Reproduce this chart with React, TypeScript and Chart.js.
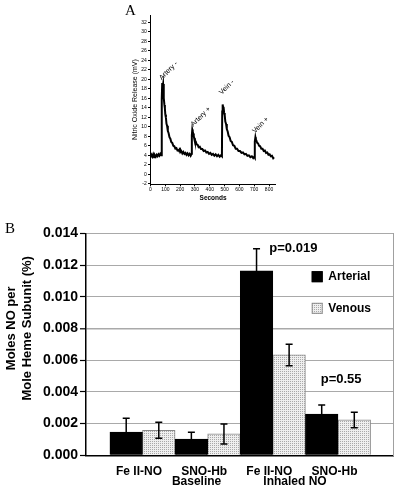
import React, { useEffect, useRef } from "react";
import { Chart, registerables } from "chart.js";

Chart.register(...registerables);

const SANS = "'Liberation Sans', Arial, Helvetica, sans-serif";
const SERIF = "'Liberation Serif', 'Times New Roman', serif";

// ---------- Panel A: NO release trace ----------
const TRACE_TIME_S = [
  0, 6, 12, 18, 24, 30, 36, 42, 48, 54, 60, 66, 72, 75, 77, 79, 82, 85, 88, 91,
  94, 97, 100, 104, 108, 112, 117, 122, 128, 134, 140, 147, 154, 161, 168, 175,
  182, 189, 195, 198, 202, 208, 215, 222, 229, 236, 243, 250, 257, 264, 271, 277,
  279, 282, 285, 288, 292, 296, 300, 305, 311, 318, 325, 333, 341, 350, 359, 368,
  377, 386, 395, 404, 413, 422, 431, 440, 449, 458, 467, 476, 482, 484, 487, 490,
  493, 497, 501, 505, 510, 515, 521, 527, 534, 541, 549, 557, 566, 575, 584, 594,
  604, 614, 624, 634, 644, 654, 664, 674, 684, 693, 700, 703, 705, 708, 711, 715,
  720, 726, 733, 740, 748, 756, 764, 772, 780, 788, 796, 804, 812, 820, 828, 834,
];
const TRACE_NO_MV = [
  3.6, 4.1, 3.7, 4.2, 3.6, 4.0, 3.7, 4.1, 3.8, 4.2, 3.9, 4.3, 4.0, 4.3, 15.8, 19.2, 18.4, 19.0, 16.9, 16.0,
  14.6, 13.9, 12.6, 11.9, 10.6, 10.2, 9.1, 8.7, 7.8, 7.5, 6.8, 6.6, 6.0, 5.9, 5.4, 5.5,
  5.0, 5.1, 4.8, 5.6, 4.7, 4.9, 4.4, 4.7, 4.3, 4.5, 4.1, 4.4, 4.0, 4.3, 3.9, 4.3,
  8.2, 9.4, 9.0, 8.6, 8.0, 7.6, 7.0, 6.9, 6.3, 6.2, 5.7, 5.8, 5.3, 5.3, 4.9, 5.0,
  4.6, 4.7, 4.3, 4.5, 4.1, 4.3, 3.9, 4.2, 3.8, 4.1, 3.7, 4.0, 3.8, 13.2, 14.7, 14.1,
  14.2, 12.9, 12.4, 11.1, 10.6, 9.5, 9.0, 8.1, 7.8, 7.0, 6.8, 6.1, 6.0, 5.4, 5.4, 4.9,
  4.9, 4.5, 4.6, 4.2, 4.3, 3.9, 4.0, 3.6, 3.8, 3.4, 3.7, 3.5, 6.9, 7.8, 7.3, 7.1,
  6.6, 6.5, 6.0, 5.9, 5.4, 5.4, 4.9, 5.0, 4.5, 4.6, 4.1, 4.2, 3.8, 3.9, 3.4, 3.6,
];
const A_X_TICKS = [0, 100, 200, 300, 400, 500, 600, 700, 800];
const A_Y_TICKS = [-2, 0, 2, 4, 6, 8, 10, 12, 14, 16, 18, 20, 22, 24, 26, 28, 30, 32];
const PEAK_LABELS = ["Artery -", "Artery +", "Vein -", "Vein +"];
const PEAK_LABEL_TIME = [76, 289, 481, 705];
const PEAK_LABEL_MV = [19.8, 10.0, 16.7, 8.6];

// ---------- Panel B: bar chart ----------
const CATEGORIES = ["Fe II-NO", "SNO-Hb", "Fe II-NO", "SNO-Hb"];
const GROUPS = ["Baseline", "Inhaled NO"];
const GROUP_AT = [1.83, 3.34];
const ARTERIAL = [0.00147, 0.00103, 0.01163, 0.0026];
const ARTERIAL_ERR = [0.00086, 0.00042, 0.0014, 0.00057];
const VENOUS = [0.00158, 0.00135, 0.00633, 0.00223];
const VENOUS_ERR = [0.0005, 0.00063, 0.00068, 0.00049];
const B_Y_TICKS = [0, 0.002, 0.004, 0.006, 0.008, 0.01, 0.012, 0.014];
const P_LABELS = ["p=0.019", "p=0.55"];
const P_AT_X = [2.946, 3.735];
const P_AT_Y = [0.01305, 0.00481];

function makeStipple(ctx: CanvasRenderingContext2D) {
  const c = document.createElement("canvas");
  c.width = 2;
  c.height = 2;
  const g = c.getContext("2d")!;
  g.fillStyle = "#efefef";
  g.fillRect(0, 0, 2, 2);
  g.fillStyle = "#a9a9a9";
  g.fillRect(0, 0, 1, 1);
  return ctx.createPattern(c, "repeat")!;
}

const panelADecor = {
  id: "panelADecor",
  afterDraw(chart: any) {
    const { ctx } = chart;
    const xs = chart.scales.x;
    const ys = chart.scales.y;
    ctx.save();
    ctx.fillStyle = "#000";
    ctx.font = `15px ${SERIF}`;
    ctx.textAlign = "left";
    ctx.textBaseline = "alphabetic";
    ctx.fillText("A", 25, 15);
    ctx.font = `7px ${SANS}`;
    PEAK_LABELS.forEach((t, i) => {
      const px = xs.getPixelForValue(PEAK_LABEL_TIME[i]);
      const py = ys.getPixelForValue(PEAK_LABEL_MV[i]);
      ctx.save();
      ctx.translate(px, py);
      ctx.rotate(-Math.PI / 4);
      ctx.fillText(t, 0, 0);
      ctx.restore();
    });
    ctx.restore();
  },
};

const errorBarPlugin = {
  id: "errorBars",
  afterDatasetsDraw(chart: any) {
    const { ctx } = chart;
    const ys = chart.scales.y;
    const errs = [ARTERIAL_ERR, VENOUS_ERR];
    const vals = [ARTERIAL, VENOUS];
    chart.data.datasets.forEach((_ds: any, di: number) => {
      const meta = chart.getDatasetMeta(di);
      meta.data.forEach((bar: any, i: number) => {
        const v = vals[di][i];
        const e = errs[di][i];
        const top = ys.getPixelForValue(v + e);
        const bot = ys.getPixelForValue(v - e);
        const x = bar.x;
        ctx.save();
        ctx.strokeStyle = "#000";
        ctx.lineWidth = 1.5;
        ctx.beginPath();
        ctx.moveTo(x, top);
        ctx.lineTo(x, bot);
        ctx.moveTo(x - 3.5, top);
        ctx.lineTo(x + 3.5, top);
        ctx.moveTo(x - 3.5, bot);
        ctx.lineTo(x + 3.5, bot);
        ctx.stroke();
        ctx.restore();
      });
    });
  },
};

const panelBDecor = {
  id: "panelBDecor",
  afterDraw(chart: any) {
    const { ctx, chartArea } = chart;
    const xs = chart.scales.x;
    const ys = chart.scales.y;
    ctx.save();
    ctx.fillStyle = "#000";
    ctx.font = `15px ${SERIF}`;
    ctx.textAlign = "left";
    ctx.textBaseline = "alphabetic";
    ctx.fillText("B", 5, 18);
    ctx.font = `bold 13px ${SANS}`;
    ctx.textAlign = "center";
    ctx.textBaseline = "middle";
    const yTitle = ["Moles NO per", "Mole Heme Subunit (%)"];
    const cy = 113.3;
    yTitle.forEach((t, i) => {
      ctx.save();
      ctx.translate(11.5 + i * 16, cy);
      ctx.rotate(-Math.PI / 2);
      ctx.fillText(t, 0, 0);
      ctx.restore();
    });
    const lx = chartArea.right - 81.3;
    const ly0 = chartArea.top + 43.4;
    chart.data.datasets.forEach((ds: any, i: number) => {
      const cyl = ly0 + i * 31.6;
      ctx.fillStyle = ds.backgroundColor;
      ctx.fillRect(lx, cyl - 5.5, 11, 11);
      ctx.strokeStyle = ds.borderColor;
      ctx.lineWidth = 1;
      ctx.strokeRect(lx + 0.5, cyl - 5, 10, 10);
      ctx.fillStyle = "#000";
      ctx.font = `bold 12px ${SANS}`;
      ctx.textAlign = "left";
      ctx.textBaseline = "middle";
      ctx.fillText(ds.label, lx + 16.6, cyl);
    });
    ctx.font = `bold 13px ${SANS}`;
    ctx.textAlign = "left";
    ctx.textBaseline = "middle";
    P_LABELS.forEach((t, i) => {
      ctx.fillText(t, xs.getPixelForValue(P_AT_X[i]), ys.getPixelForValue(P_AT_Y[i]));
    });
    ctx.restore();
  },
};

export default function App() {
  const aRef = useRef<HTMLCanvasElement>(null);
  const bRef = useRef<HTMLCanvasElement>(null);

  useEffect(() => {
    const chartA = new Chart(aRef.current!, {
      type: "line",
      data: {
        datasets: [
          {
            data: TRACE_TIME_S.map((t, i) => ({ x: t, y: TRACE_NO_MV[i] })),
            borderColor: "#000",
            borderWidth: 2,
            pointRadius: 0,
            tension: 0,
            fill: false,
          },
        ],
      },
      options: {
        animation: false,
        responsive: false,
        layout: { padding: { left: 0, top: 15, right: 24.3, bottom: 0 } },
        plugins: { legend: { display: false }, tooltip: { enabled: false } },
        scales: {
          x: {
            type: "linear",
            min: 0,
            max: 845,
            offset: false,
            afterBuildTicks: (s: any) => {
              s.ticks = A_X_TICKS.map((v) => ({ value: v }));
            },
            afterFit: (s: any) => {
              s.height = 20.7;
            },
            grid: { display: true, drawOnChartArea: false, drawTicks: true, tickLength: 2, tickColor: "#000" },
            border: { display: true, color: "#000", width: 1 },
            ticks: {
              font: { family: SANS, size: 5 },
              color: "#000",
              padding: 0.7,
              maxRotation: 0,
              autoSkip: false,
            },
            title: {
              display: true,
              text: "Seconds",
              font: { family: SANS, size: 6.5, weight: "bold" },
              color: "#000",
              padding: { top: 0, bottom: 2.8 },
            },
          },
          y: {
            type: "linear",
            min: -2.1,
            max: 33.5,
            afterBuildTicks: (s: any) => {
              s.ticks = A_Y_TICKS.map((v) => ({ value: v }));
            },
            afterFit: (s: any) => {
              s.width = 50.5;
            },
            grid: { display: true, drawOnChartArea: false, drawTicks: true, tickLength: 2.5, tickColor: "#000" },
            border: { display: true, color: "#000", width: 1 },
            ticks: { font: { family: SANS, size: 5 }, color: "#000", padding: 1.3, autoSkip: false },
            title: {
              display: true,
              text: "Nitric Oxide Release (mV)",
              font: { family: SANS, size: 7 },
              color: "#000",
              padding: { top: 30.8, bottom: 0 },
            },
          },
        },
      },
      plugins: [panelADecor],
    } as any);

    const ctxB = bRef.current!.getContext("2d")!;
    const stipple = makeStipple(ctxB);
    const xMin = 0.133;
    const xMax = 4.844;

    const chartB = new Chart(bRef.current!, {
      type: "bar",
      data: {
        datasets: [
          {
            label: "Arterial",
            data: ARTERIAL.map((v, i) => ({ x: i + 1, y: v })),
            backgroundColor: "#000",
            borderColor: "#000",
            borderWidth: 1,
          },
          {
            label: "Venous",
            data: VENOUS.map((v, i) => ({ x: i + 1, y: v })),
            backgroundColor: stipple,
            borderColor: "#8a8a8a",
            borderWidth: 1,
          },
        ],
      },
      options: {
        animation: false,
        responsive: false,
        layout: { padding: { left: 0, top: 18.3, right: 7, bottom: 0 } },
        datasets: { bar: { categoryPercentage: 1, barPercentage: 1 } },
        plugins: { legend: { display: false }, tooltip: { enabled: false } },
        scales: {
          x: {
            type: "linear",
            position: "bottom",
            weight: 1,
            offset: false,
            min: xMin,
            max: xMax,
            afterBuildTicks: (s: any) => {
              s.ticks = CATEGORIES.map((_c, i) => ({ value: i + 1 }));
            },
            afterFit: (s: any) => {
              s.height = 16;
            },
            grid: { display: false, drawTicks: false, tickLength: 0, offset: false },
            border: { display: true, color: "#000", width: 1.5 },
            ticks: {
              callback: (_v: any, i: number) => CATEGORIES[i],
              font: { family: SANS, size: 12, weight: "bold", lineHeight: 1 },
              color: "#000",
              mirror: true,
              padding: -22.2,
              labelOffset: -3.5,
              autoSkip: false,
              maxRotation: 0,
            },
          },
          x2: {
            type: "linear",
            position: "bottom",
            weight: 2,
            offset: false,
            min: xMin,
            max: xMax,
            afterBuildTicks: (s: any) => {
              s.ticks = GROUP_AT.map((v) => ({ value: v }));
            },
            afterFit: (s: any) => {
              s.height = 16.7;
            },
            grid: { display: false, drawTicks: false, tickLength: 0, offset: false },
            border: { display: false },
            ticks: {
              callback: (_v: any, i: number) => GROUPS[i],
              font: { family: SANS, size: 12, weight: "bold", lineHeight: 1 },
              color: "#000",
              mirror: true,
              padding: -16.4,
              autoSkip: false,
              maxRotation: 0,
            },
          },
          y: {
            type: "linear",
            min: 0,
            max: 0.014,
            afterBuildTicks: (s: any) => {
              s.ticks = B_Y_TICKS.map((v) => ({ value: v }));
            },
            afterFit: (s: any) => {
              s.width = 86;
            },
            grid: {
              display: true,
              drawOnChartArea: true,
              drawTicks: true,
              tickLength: 6,
              tickColor: "#000",
              tickWidth: 1.2,
              color: (c: any) => (c.tick && c.tick.value === 0 ? "#000" : "#a9a9a9"),
              lineWidth: (c: any) => (c.tick && Math.abs(c.tick.value - 0.008) < 1e-9 ? 1.6 : 1),
            },
            border: { display: true, color: "#000", width: 1.5 },
            ticks: {
              callback: (v: any) => Number(v).toFixed(3),
              font: { family: SANS, size: 14, weight: "bold" },
              color: "#000",
              padding: 2,
              autoSkip: false,
            },
          },
          y2: {
            type: "linear",
            position: "right",
            min: 0,
            max: 0.014,
            afterFit: (s: any) => {
              s.width = 0;
            },
            grid: { display: false, drawTicks: false, tickLength: 0 },
            ticks: { display: false },
            border: { display: true, color: "#a0a0a0", width: 1 },
          },
        },
      },
      plugins: [errorBarPlugin, panelBDecor],
    } as any);

    return () => {
      chartA.destroy();
      chartB.destroy();
    };
  }, []);

  return (
    <div style={{ position: "fixed", left: 0, top: 0, width: 400, height: 488, background: "#fff" }}>
      <canvas
        ref={aRef}
        width={200}
        height={205}
        style={{ position: "absolute", left: 100, top: 0, width: 200, height: 205 }}
      />
      <canvas
        ref={bRef}
        width={400}
        height={273}
        style={{ position: "absolute", left: 0, top: 215, width: 400, height: 273 }}
      />
    </div>
  );
}
